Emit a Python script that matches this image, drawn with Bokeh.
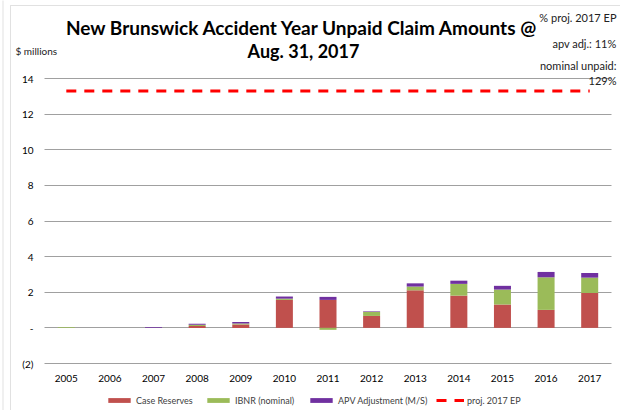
from bokeh.plotting import figure
from bokeh.models import (Range1d, FixedTicker, Label, Legend, LegendItem,
                          ColumnDataSource, BoxAnnotation, Grid)
from bokeh.embed import file_html
from bokeh.resources import INLINE

years = ["2005", "2006", "2007", "2008", "2009", "2010", "2011", "2012",
         "2013", "2014", "2015", "2016", "2017"]
case_reserves = [0.00, 0.00, 0.00, 0.10, 0.19, 1.57, 1.57, 0.67, 2.11, 1.81, 1.31, 1.01, 1.96]
ibnr_nominal = [0.03, 0.00, 0.00, 0.08, 0.06, 0.07, -0.11, 0.23, 0.21, 0.66, 0.84, 1.83, 0.86]
apv_adjustment = [0.00, 0.00, 0.04, 0.05, 0.08, 0.12, 0.17, 0.03, 0.18, 0.18, 0.21, 0.30, 0.26]
proj_2017_ep = [13.3, 13.3, 13.3, 13.3, 13.3, 13.3, 13.3, 13.3, 13.3, 13.3, 13.3, 13.3, 13.3]
y_ticks = [-2, 0, 2, 4, 6, 8, 10, 12, 14]

series = [("Case Reserves", case_reserves, "#C0504D"),
          ("IBNR (nominal)", ibnr_nominal, "#9BBB59"),
          ("APV Adjustment (M/S)", apv_adjustment, "#7030A0")]

FONT = "Lato"
W, H = 620, 410
# plot-area layout in pixels
PL, PR, PT, PB = 44, 611, 78, 363
n = len(years)
band = (PR - PL) / n
ppu = (PB - PT) / (y_ticks[-1] - y_ticks[0])
x0 = -0.5 - PL / band
x1 = n - 0.5 + (W - PR) / band
y1 = y_ticks[-1] + PT / ppu
y0 = y_ticks[0] - (H - PB) / ppu

p = figure(width=W, height=H, output_backend="svg", toolbar_location=None,
           x_range=Range1d(x0, x1), y_range=Range1d(y0, y1),
           min_border_left=0, min_border_right=0, min_border_top=0,
           min_border_bottom=0)
p.outline_line_color = None

xs = list(range(n))
pos = [0.0] * n
neg = [0.0] * n
renderers = []
for name, vals, color in series:
    bottoms, tops = [], []
    for i, v in enumerate(vals):
        if v >= 0:
            bottoms.append(pos[i]); tops.append(pos[i] + v); pos[i] += v
        else:
            tops.append(neg[i]); bottoms.append(neg[i] + v); neg[i] += v
    src = ColumnDataSource(dict(x=xs, bottom=bottoms, top=tops))
    r = p.vbar(x="x", bottom="bottom", top="top", width=0.39, source=src,
               fill_color=color, line_color=None)
    renderers.append((name, r))

ln = p.line(x=xs, y=proj_2017_ep, line_color="#FF0000", line_width=3,
            line_dash="10 8")
renderers.append(("proj. 2017 EP", ln))

p.xaxis.ticker = FixedTicker(ticks=xs)
p.xaxis.major_label_overrides = {i: y for i, y in enumerate(years)}
p.xaxis.fixed_location = y_ticks[0]
p.yaxis.ticker = FixedTicker(ticks=y_ticks)
p.yaxis.major_label_overrides = {0: "-", -2: "(2)"}
p.yaxis.fixed_location = -0.5
for ax in (p.xaxis[0], p.yaxis[0]):
    ax.axis_line_color = None
    ax.major_tick_line_color = None
    ax.minor_tick_line_color = None
    ax.major_tick_out = 0
    ax.major_tick_in = 0
    ax.major_label_text_font = FONT
    ax.major_label_text_font_size = "10px"
    ax.major_label_text_color = "#000000"
p.yaxis.major_label_standoff = 11
p.xaxis.major_label_standoff = 11
p.xgrid.grid_line_color = None
p.ygrid.ticker = FixedTicker(ticks=y_ticks)
p.ygrid.grid_line_color = "#A0A0A0"
p.ygrid.grid_line_width = 1
if "cross_bounds" in Grid.properties():
    p.ygrid.cross_bounds = (-0.5, n - 0.5)
else:
    p.ygrid.grid_line_color = None
    p.segment(x0=[-0.5] * len(y_ticks), x1=[n - 0.5] * len(y_ticks),
              y0=y_ticks, y1=y_ticks, line_color="#A0A0A0", line_width=1)

# chart-area border (left and top edges)
p.add_layout(BoxAnnotation(left=10, right=W + 50, top=H - 5, bottom=-50,
                           left_units="screen", right_units="screen",
                           top_units="screen", bottom_units="screen",
                           fill_alpha=0, line_color="#9A9A9A", line_width=1))
p.add_layout(BoxAnnotation(left=2, right=3, top=H + 50, bottom=-50,
                           left_units="screen", right_units="screen",
                           top_units="screen", bottom_units="screen",
                           fill_color="#E2E2E2", fill_alpha=1, line_color=None))

# one legend per entry so each sits where the reference puts it
legend_x = [105, 204, 307, 436]
for (nm, r), lx in zip(renderers, legend_x):
    p.add_layout(Legend(items=[LegendItem(label=nm, renderers=[r])],
                        orientation="horizontal", location=(lx, H - 406),
                        glyph_width=28, glyph_height=6, label_height=12,
                        label_standoff=3, spacing=0, padding=0, margin=0,
                        label_text_font=FONT, label_text_font_size="9px",
                        label_text_color="#404040", border_line_color=None,
                        background_fill_alpha=0), "center")

def add_label(text, x, y, size, align="left", bold=False, color="#000000"):
    p.add_layout(Label(x=x, y=H - y, x_units="screen", y_units="screen", text=text,
                       text_font=FONT, text_font_size=size, text_align=align,
                       text_baseline="middle", text_color=color,
                       text_font_style="bold" if bold else "normal"))

add_label("New Brunswick Accident Year Unpaid Claim Amounts @", 302, 27, "19px",
          align="center", bold=True)
add_label("Aug. 31, 2017", 303, 50, "18px", align="center", bold=True)
add_label("% proj. 2017 EP", 616, 17, "11px", align="right", color="#222222")
add_label("apv adj.: 11%", 616, 43, "11px", align="right", color="#222222")
add_label("nominal unpaid:", 616, 65, "11px", align="right", color="#222222")
add_label("129%", 616, 80, "11px", align="right", color="#222222")
add_label("$ millions", 15, 50, "10px", color="#222222")

open("out.html", "w").write(file_html(p, INLINE))
